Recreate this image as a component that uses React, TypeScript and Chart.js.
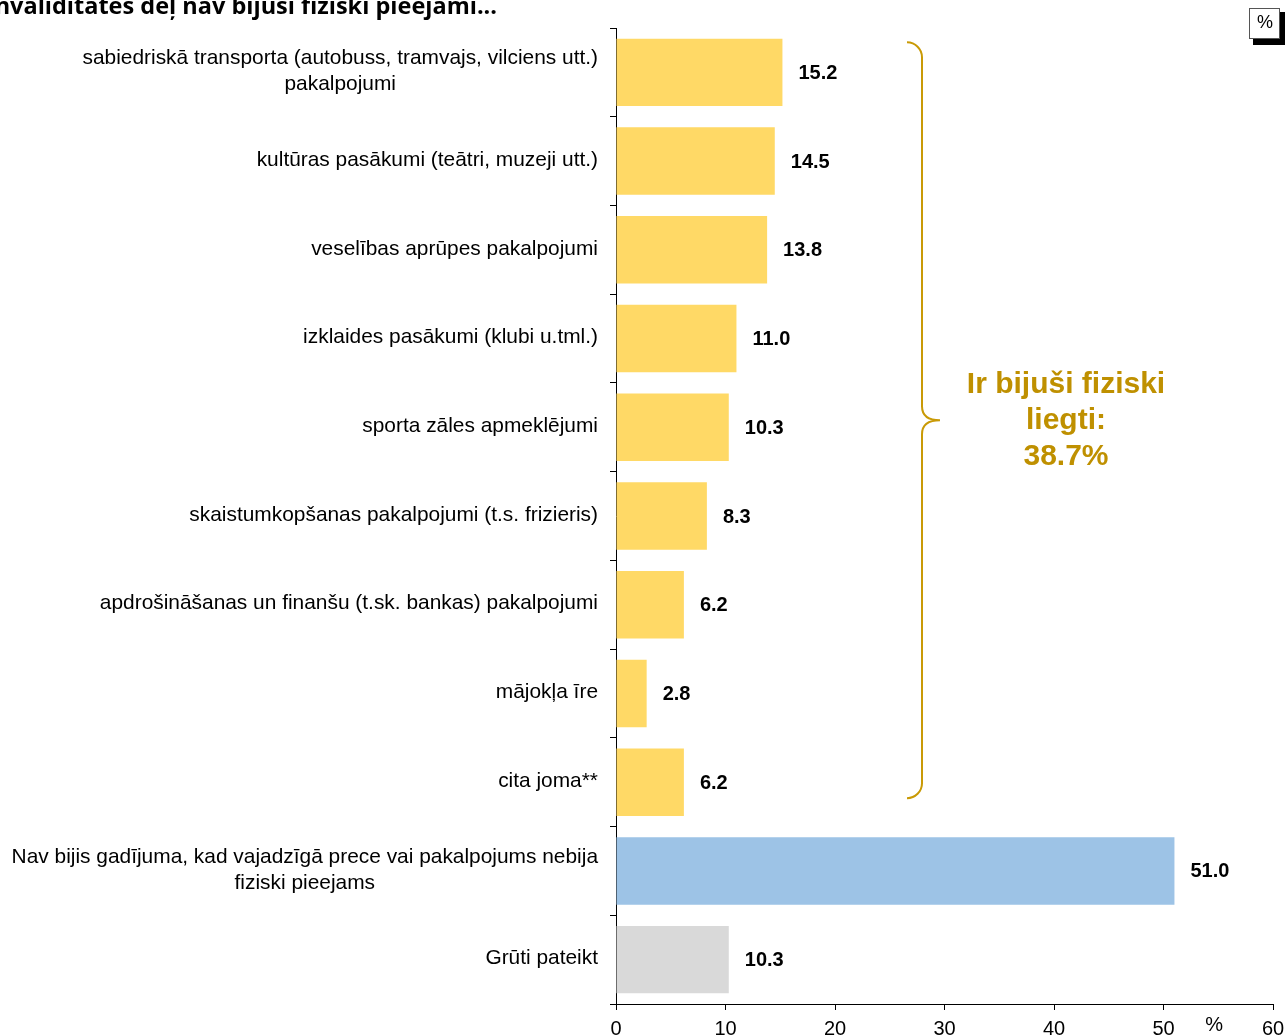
import React, { useEffect, useRef } from "react";
import { Chart, registerables } from "chart.js";

Chart.register(...registerables);

const categories: (string | string[])[] = [
  ["sabiedriskā transporta (autobuss, tramvajs, vilciens utt.)", "pakalpojumi"],
  "kultūras pasākumi (teātri, muzeji utt.)",
  "veselības aprūpes pakalpojumi",
  "izklaides pasākumi (klubi u.tml.)",
  "sporta zāles apmeklējumi",
  "skaistumkopšanas pakalpojumi (t.s. frizieris)",
  "apdrošināšanas un finanšu (t.sk. bankas) pakalpojumi",
  "mājokļa īre",
  "cita joma**",
  ["Nav bijis gadījuma, kad vajadzīgā prece vai pakalpojums nebija", "fiziski pieejams"],
  "Grūti pateikt",
];

const values: number[] = [15.2, 14.5, 13.8, 11.0, 10.3, 8.3, 6.2, 2.8, 6.2, 51.0, 10.3];

const barColors: string[] = [
  "#FFD966", "#FFD966", "#FFD966", "#FFD966", "#FFD966", "#FFD966", "#FFD966", "#FFD966", "#FFD966",
  "#9DC3E6",
  "#D9D9D9",
];

const braceText: string[] = ["Ir bijuši fiziski", "liegti:", "38.7%"];
const titleText = "invaliditātes dēļ nav bijuši fiziski pieejami...";
const axisUnit = "%";

const W = 1285;
const H = 1035;

const overlayPlugin = {
  id: "overlay",
  afterDraw(chart: any) {
    const ctx: CanvasRenderingContext2D = chart.ctx;
    const xS = chart.scales.x;
    const yS = chart.scales.y;
    const area = chart.chartArea;
    ctx.save();

    // category labels
    ctx.fillStyle = "#000";
    ctx.font = '20.9px "Liberation Sans", Arial, sans-serif';
    ctx.textBaseline = "middle";
    ctx.textAlign = "center";
    const lineH = 26;
    const rightX = area.left - 18;
    categories.forEach((lab, i) => {
      const lines = Array.isArray(lab) ? lab : [lab];
      const maxW = Math.max(...lines.map((l) => ctx.measureText(l).width));
      const cx = rightX - maxW / 2;
      const cy = yS.getPixelForValue(i) - 1;
      lines.forEach((l, j) => {
        ctx.fillText(l, cx, cy + (j - (lines.length - 1) / 2) * lineH);
      });
    });

    // value labels
    ctx.font = 'bold 20px "Liberation Sans", Arial, sans-serif';
    ctx.textAlign = "left";
    values.forEach((v, i) => {
      const x = xS.getPixelForValue(v) + 16;
      const y = yS.getPixelForValue(i) + 1;
      ctx.fillText(v.toFixed(1), x, y);
    });

    // brace
    const top = yS.getPixelForValue(0) - 30;
    const bot = yS.getPixelForValue(8) + 16;
    const mid = (top + bot) / 2;
    const bx = 922;
    const r = 15;
    ctx.strokeStyle = "#C99A06";
    ctx.lineWidth = 2;
    ctx.beginPath();
    ctx.moveTo(bx - r, top);
    ctx.arcTo(bx, top, bx, top + r, r);
    ctx.lineTo(bx, mid - 14);
    ctx.quadraticCurveTo(bx, mid, bx + 18, mid);
    ctx.quadraticCurveTo(bx, mid, bx, mid + 14);
    ctx.lineTo(bx, bot - r);
    ctx.arcTo(bx, bot, bx - r, bot, r);
    ctx.stroke();

    // brace text
    ctx.fillStyle = "#BF9000";
    ctx.font = 'bold 30px "Liberation Sans", Arial, sans-serif';
    ctx.textAlign = "center";
    ctx.textBaseline = "middle";
    braceText.forEach((t, j) => {
      ctx.fillText(t, 1066, mid - 36 + j * 36);
    });

    // title (cut off on the left)
    ctx.fillStyle = "#000";
    ctx.font = 'bold 23.5px "Open Sans", sans-serif';
    ctx.textAlign = "right";
    ctx.textBaseline = "alphabetic";
    ctx.fillText(titleText, 497, 14);

    // % unit near x-axis
    ctx.font = '20px "Liberation Sans", Arial, sans-serif';
    ctx.textAlign = "center";
    ctx.textBaseline = "top";
    ctx.fillText(axisUnit, (xS.getPixelForValue(50) + xS.getPixelForValue(60)) / 2 - 4, 1015);

    // % box top-right
    ctx.fillStyle = "#000";
    ctx.fillRect(1253, 12, 32, 33);
    ctx.fillStyle = "#fff";
    ctx.fillRect(1249, 8, 31, 31);
    ctx.strokeStyle = "#555";
    ctx.lineWidth = 1;
    ctx.strokeRect(1249.5, 8.5, 30, 30);
    ctx.fillStyle = "#000";
    ctx.font = '18px "Liberation Sans", Arial, sans-serif';
    ctx.textBaseline = "middle";
    ctx.fillText("%", 1265, 23);

    ctx.restore();
  },
};

export default function App() {
  const ref = useRef<HTMLCanvasElement | null>(null);
  useEffect(() => {
    if (!ref.current) return;
    const chart = new Chart(ref.current, {
      type: "bar",
      data: {
        labels: categories as any,
        datasets: [
          {
            data: values,
            backgroundColor: barColors,
            borderWidth: 0,
            barPercentage: 0.76,
            categoryPercentage: 1,
          },
        ],
      },
      options: {
        indexAxis: "y",
        responsive: false,
        animation: false,
        events: [],
        layout: { padding: { top: 28, right: 12, left: 0, bottom: 0 } },
        plugins: {
          legend: { display: false },
          tooltip: { enabled: false },
          title: { display: false },
        },
        scales: {
          x: {
            type: "linear",
            min: 0,
            max: 60,
            ticks: {
              stepSize: 10,
              color: "#000",
              font: { size: 20, family: '"Liberation Sans", Arial, sans-serif' },
              padding: 7,
              maxRotation: 0,
            },
            grid: { drawOnChartArea: false, drawTicks: true, tickLength: 6, color: "#000" },
            border: { display: true, color: "#000", width: 1 },
            afterFit(scale: any) {
              scale.height = 31;
              scale.paddingRight = 0;
              scale.paddingLeft = 0;
            },
          },
          y: {
            type: "category",
            ticks: { display: false },
            grid: { drawOnChartArea: false, drawTicks: true, tickLength: 6, color: "#000", offset: true },
            border: { display: true, color: "#000", width: 1 },
            afterFit(scale: any) {
              scale.width = 616;
            },
          },
        },
      },
      plugins: [overlayPlugin],
    });
    return () => chart.destroy();
  }, []);
  return (
    <div style={{ position: "absolute", left: 0, top: 0, width: W, height: H, background: "#fff" }}>
      <canvas ref={ref} width={W} height={H} style={{ width: W, height: H, display: "block" }} />
    </div>
  );
}
